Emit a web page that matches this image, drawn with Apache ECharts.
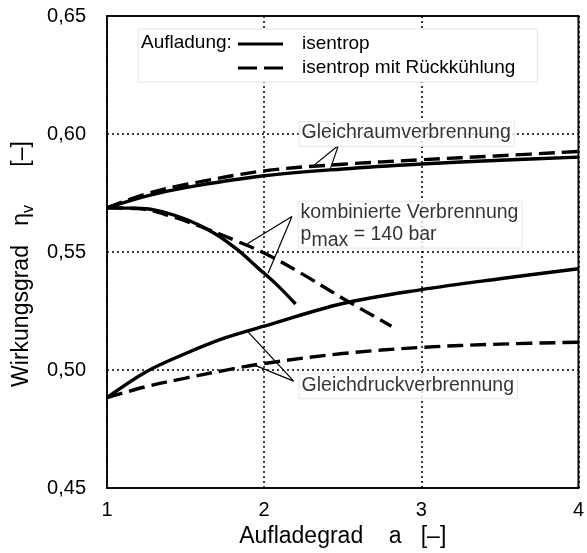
<!DOCTYPE html>
<html>
<head>
<meta charset="utf-8">
<script src="https://cdn.jsdelivr.net/npm/echarts@6/dist/echarts.min.js"></script>
<style>
html,body{margin:0;padding:0;background:#fff;}
#c{width:587px;height:553px;}
</style>
</head>
<body>
<div id="c"></div>
<script>
// ---- data ----
const xTicks = [1, 2, 3, 4];
const yTickLabels = ['0,45', '0,50', '0,55', '0,60', '0,65'];

const gleichraumX = [1, 1.25, 1.5, 2, 2.5, 3, 3.5, 4];
const gleichraumIsentrop = [0.5687, 0.5737, 0.5773, 0.5823, 0.5852, 0.5873, 0.5889, 0.5902];
const gleichraumRueck = [0.5687, 0.5747, 0.5786, 0.5844, 0.5872, 0.5891, 0.5908, 0.5926];

const kombIsentropX = [1, 1.15, 1.3, 1.51, 1.68, 1.83, 1.96, 2.08, 2.2];
const kombIsentrop = [0.5687, 0.5686, 0.5679, 0.5637, 0.5581, 0.5510, 0.5433, 0.5362, 0.5280];
const kombRueckX = [1, 1.2, 1.41, 1.62, 1.83, 2.0, 2.23, 2.51, 2.81];
const kombRueck = [0.5687, 0.5684, 0.5651, 0.5602, 0.5545, 0.5496, 0.5412, 0.5300, 0.5186];

const gdX = [1, 1.25, 1.5, 1.75, 2, 2.5, 3, 3.5, 4];
const gdIsentrop = [0.4883, 0.4993, 0.5070, 0.5136, 0.5186, 0.5282, 0.5341, 0.5387, 0.5429];
const gdRueck = [0.4883, 0.4930, 0.4966, 0.4999, 0.5028, 0.5070, 0.5096, 0.5110, 0.5118];

// callouts: [end1, apex, end2] in data coordinates
const calloutGleichraum = [[2.314, 0.5866], [2.472, 0.5951], [2.419, 0.5848]];
const calloutKomb = [[1.893, 0.5535], [2.177, 0.5651], [2.025, 0.5410]];
const calloutGleichdruck = [[1.893, 0.5165], [2.188, 0.4953], [1.946, 0.5019]];

// annotation anchors (left/middle of text box)
const labelAnchors = [
  { pos: [2.2255, 0.6000], text: '{t|Gleichraumverbrennung}' },
  { pos: [2.219, 0.5616], text: '{t|kombinierte Verbrennung}\n{t|p}{s|max}{t| = 140 bar}' },
  { pos: [2.2255, 0.4931], text: '{t|Gleichdruckverbrennung}' }
];

const nameSolid = 'isentrop';
const nameDashed = 'isentrop mit Rückkühlung';

// ---- chart ----
const FONT = 'Liberation Sans, Arial, sans-serif';
function pairs(xs, ys) { return xs.map((x, i) => [x, ys[i]]); }

const LW = 3.4;
const solidStyle = { color: '#000', width: LW, type: 'solid' };
const dashStyle = { color: '#000', width: LW, type: [16, 7] };

function curve(name, xs, ys, style) {
  return {
    type: 'line', name: name, data: pairs(xs, ys), smooth: 0.35,
    showSymbol: false, symbol: 'none', lineStyle: style,
    itemStyle: { color: '#000' }, z: 5, silent: true
  };
}
function callout(pts) {
  return {
    type: 'line', data: pts, smooth: false, symbol: 'none',
    lineStyle: { color: '#000', width: 1.2 }, z: 6, silent: true
  };
}

const chart = echarts.init(document.getElementById('c'), null, { renderer: 'canvas' });
chart.setOption({
  animation: false,
  backgroundColor: '#fff',
  textStyle: { fontFamily: FONT },
  grid: { left: 107, right: 5, top: 16, bottom: 64, show: true, borderColor: '#111', borderWidth: 2, backgroundColor: 'transparent' },
  xAxis: {
    type: 'value', min: 1, max: 4, interval: 1,
    axisLine: { show: false }, axisTick: { show: false },
    axisLabel: { fontSize: 20, color: '#000', margin: 12, fontFamily: FONT,
      formatter: v => xTicks.indexOf(v) >= 0 ? String(v) : '' },
    splitLine: { show: true, lineStyle: { color: '#000', width: 1.5, type: [2, 3] } },
    name: 'Aufladegrad    a   [–]', nameLocation: 'middle', nameGap: 35,
    nameTextStyle: { fontSize: 23, color: '#000', fontFamily: FONT }
  },
  yAxis: {
    type: 'value', min: 0.45, max: 0.65, interval: 0.05,
    axisLine: { show: false }, axisTick: { show: false },
    axisLabel: { fontSize: 20, color: '#000', margin: 21, fontFamily: FONT,
      formatter: v => yTickLabels[Math.round((v - 0.45) / 0.05)] },
    splitLine: { show: true, lineStyle: { color: '#000', width: 1.5, type: [2, 3] } },
    name: '{a|Wirkungsgrad   η}{s|v}{a|      [–]}', nameLocation: 'middle', nameGap: 63,
    nameTextStyle: { fontSize: 23, color: '#000', fontFamily: FONT, padding: [0, 24, 0, 0],
      rich: { a: { fontSize: 23, fontFamily: FONT, color: '#000', lineHeight: 26, verticalAlign: 'top' },
              s: { fontSize: 16, fontFamily: FONT, color: '#000', lineHeight: 18, verticalAlign: 'top', padding: [10, 0, 0, 0] } } }
  },
  legend: {
    left: 138, top: 29, orient: 'vertical',
    itemWidth: 45, itemHeight: 3, itemGap: 4,
    padding: [5, 22, 4, 100],
    backgroundColor: '#fff', borderColor: '#e4e4e4', borderWidth: 1,
    selectedMode: false,
    itemStyle: { color: '#000', borderWidth: 0 },
    textStyle: { fontSize: 19, color: '#000', fontFamily: FONT, padding: [0, 0, 0, 14], lineHeight: 20 },
    data: [
      { name: nameSolid, icon: 'path://M0,0H45V3H0Z' },
      { name: nameDashed, icon: 'path://M0,0H19V3H0Z M26,0H45V3H26Z' }
    ],
    z: 20
  },
  graphic: [{
    type: 'text', left: 141, top: 33, z: 100,
    style: { text: 'Aufladung:', fontSize: 19, fill: '#000', fontFamily: FONT }
  }],
  series: [
    curve(nameSolid, gleichraumX, gleichraumIsentrop, solidStyle),
    curve(nameDashed, gleichraumX, gleichraumRueck, dashStyle),
    curve(nameSolid, kombIsentropX, kombIsentrop, solidStyle),
    curve(nameDashed, kombRueckX, kombRueck, dashStyle),
    curve(nameSolid, gdX, gdIsentrop, solidStyle),
    curve(nameDashed, gdX, gdRueck, dashStyle),
    callout(calloutGleichraum),
    callout(calloutKomb),
    callout(calloutGleichdruck),
    {
      type: 'scatter', symbolSize: 0, silent: true, z: 10,
      data: labelAnchors.map(a => ({ value: a.pos, text: a.text })),
      label: {
        show: true, position: 'right', distance: 0, align: 'left', verticalAlign: 'middle',
        formatter: p => p.data.text,
        fontSize: 19.5, color: '#000', fontFamily: FONT,
        backgroundColor: '#fff', borderColor: '#e4e4e4', borderWidth: 1, padding: [1, 3, 1, 2],
        rich: {
          t: { fontSize: 19.5, color: '#000', fontFamily: FONT, lineHeight: 22, verticalAlign: 'top' },
          s: { fontSize: 19.5, color: '#000', fontFamily: FONT, lineHeight: 22, verticalAlign: 'top', padding: [6, 0, 0, 0] }
        }
      }
    }
  ]
});
</script>
</body>
</html>
